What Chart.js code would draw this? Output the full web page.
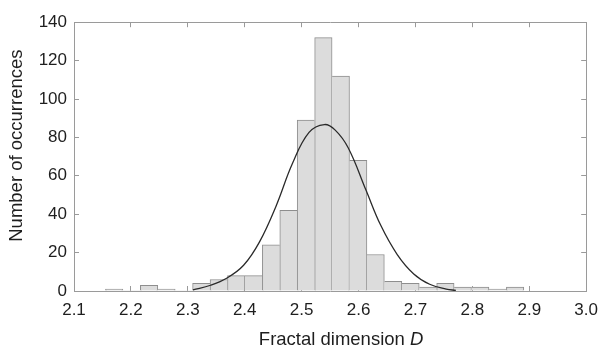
<!DOCTYPE html>
<html><head><meta charset="utf-8">
<script src="https://cdn.jsdelivr.net/npm/chart.js@4.4.1/dist/chart.umd.min.js"></script>
<style>html,body{margin:0;padding:0;background:#fff;}canvas{display:block;}</style>
</head><body>
<canvas id="c" width="612" height="351"></canvas>
<script>
// Histogram bins (centres of the bars) and counts
const binCenters = [2.1706, 2.2012, 2.2319, 2.2625, 2.2931, 2.3237, 2.3544, 2.3850, 2.4156, 2.4463, 2.4769, 2.5075,
                    2.5382, 2.5688, 2.5994, 2.6300, 2.6607, 2.6913, 2.7219, 2.7526, 2.7832, 2.8138, 2.8444, 2.8751];
const counts     = [1, 0, 3, 1, 0, 4, 6, 8, 8, 24, 42, 89, 132, 112, 68, 19, 5, 4, 2, 4, 2, 2, 1, 2];

// Fitted curve, points
const curveD = [2.309, 2.340, 2.369, 2.398, 2.426, 2.455, 2.484, 2.513, 2.540, 2.559, 2.582, 2.613, 2.639, 2.668, 2.697, 2.725, 2.754, 2.771];
const curveN = [0.6, 3.0, 6.8, 13.4, 25.6, 44.2, 66.5, 82.6, 86.7, 83.8, 74.5, 52.6, 34.2, 19.0, 8.9, 3.5, 1.0, 0.3];

// Tick values
const xTickValues = [2.1, 2.2, 2.3, 2.4, 2.5, 2.6, 2.7, 2.8, 2.9, 3.0];
const yTickValues = [0, 20, 40, 60, 80, 100, 120, 140];

// Axis titles
const xTitleMain = 'Fractal dimension ';
const xTitleVar = 'D';
const yTitle = 'Number of occurrences';

const FRAME = '#9a9a9a';
const TEXT = '#1e1e1e';
const FAMILY = "'Liberation Sans', Arial, sans-serif";
Chart.defaults.font.family = FAMILY;

const setX = s => { s.ticks = xTickValues.map(v => ({value: v})); };
const setY = s => { s.ticks = yTickValues.map(v => ({value: v})); };

function barBorder(ctx) {
  const i = ctx.dataIndex, v = counts[i];
  if (!v) return 0;
  const prev = i > 0 ? counts[i - 1] : 0;
  const next = i < counts.length - 1 ? counts[i + 1] : 0;
  return {top: 1, bottom: 0, left: prev < v ? 1 : 0, right: next <= v ? 1 : 0};
}

const axisTitles = {
  id: 'axisTitles',
  afterDraw(chart) {
    const {ctx, chartArea: a} = chart;
    const f = '18.5px ' + FAMILY;
    const fi = 'italic ' + f;
    ctx.save();
    ctx.fillStyle = TEXT;
    ctx.textBaseline = 'middle';
    ctx.textAlign = 'left';
    ctx.font = f;
    const w1 = ctx.measureText(xTitleMain).width;
    ctx.font = fi;
    const w2 = ctx.measureText(xTitleVar).width;
    const x0 = (a.left + a.right) / 2 + 11 - (w1 + w2) / 2;
    const y0 = a.bottom + 48.5;
    ctx.font = f;
    ctx.fillText(xTitleMain, x0, y0);
    ctx.font = fi;
    ctx.fillText(xTitleVar, x0 + w1, y0);
    ctx.translate(17.3, (a.top + a.bottom) / 2 - 11);
    ctx.rotate(-Math.PI / 2);
    ctx.font = f;
    ctx.textAlign = 'center';
    ctx.fillText(yTitle, 0, 0);
    ctx.restore();
  }
};

new Chart(document.getElementById('c'), {
  type: 'bar',
  data: {
    datasets: [
      {
        type: 'line',
        data: curveD.map((x, i) => ({x: x, y: curveN[i]})),
        borderColor: '#2a2a2a',
        borderWidth: 1.3,
        pointRadius: 0,
        fill: false,
        tension: 0.4,
        order: 0,
        xAxisID: 'x', yAxisID: 'y'
      },
      {
        type: 'bar',
        data: binCenters.map((x, i) => ({x: x, y: counts[i]})),
        backgroundColor: '#dcdcdc',
        borderColor: '#8e8e8e',
        borderWidth: barBorder,
        borderSkipped: false,
        barPercentage: 1,
        categoryPercentage: 1,
        order: 1,
        xAxisID: 'x', yAxisID: 'y'
      }
    ]
  },
  plugins: [axisTitles],
  options: {
    responsive: false,
    animation: false,
    devicePixelRatio: 1,
    layout: {padding: 0},
    plugins: {legend: {display: false}, tooltip: {enabled: false}},
    scales: {
      x: {
        type: 'linear', position: 'bottom', min: 2.1, max: 3.0, offset: false,
        afterBuildTicks: setX,
        afterFit: s => { s.height = 60; },
        ticks: {font: {size: 17}, color: TEXT, padding: 14, maxRotation: 0, autoSkip: false,
                callback: v => Number(v).toFixed(1)},
        grid: {drawOnChartArea: false, tickLength: -5, color: FRAME, offset: false},
        border: {color: FRAME, width: 1}
      },
      x2: {
        type: 'linear', position: 'top', min: 2.1, max: 3.0, offset: false,
        afterBuildTicks: setX,
        afterFit: s => { s.height = 13; },
        ticks: {display: false},
        grid: {drawOnChartArea: false, tickLength: -5, color: FRAME, offset: false},
        border: {color: FRAME, width: 1}
      },
      y: {
        type: 'linear', position: 'left', min: 0, max: 140,
        afterBuildTicks: setY,
        afterFit: s => { s.width = 74; },
        ticks: {font: {size: 17}, color: TEXT, padding: 12},
        grid: {drawOnChartArea: false, tickLength: -5, color: FRAME},
        border: {color: FRAME, width: 1}
      },
      y2: {
        type: 'linear', position: 'right', min: 0, max: 140,
        afterBuildTicks: setY,
        afterFit: s => { s.width = 16; },
        ticks: {display: false},
        grid: {drawOnChartArea: false, tickLength: -5, color: FRAME},
        border: {color: FRAME, width: 1}
      }
    }
  }
});
</script>
</body></html>
